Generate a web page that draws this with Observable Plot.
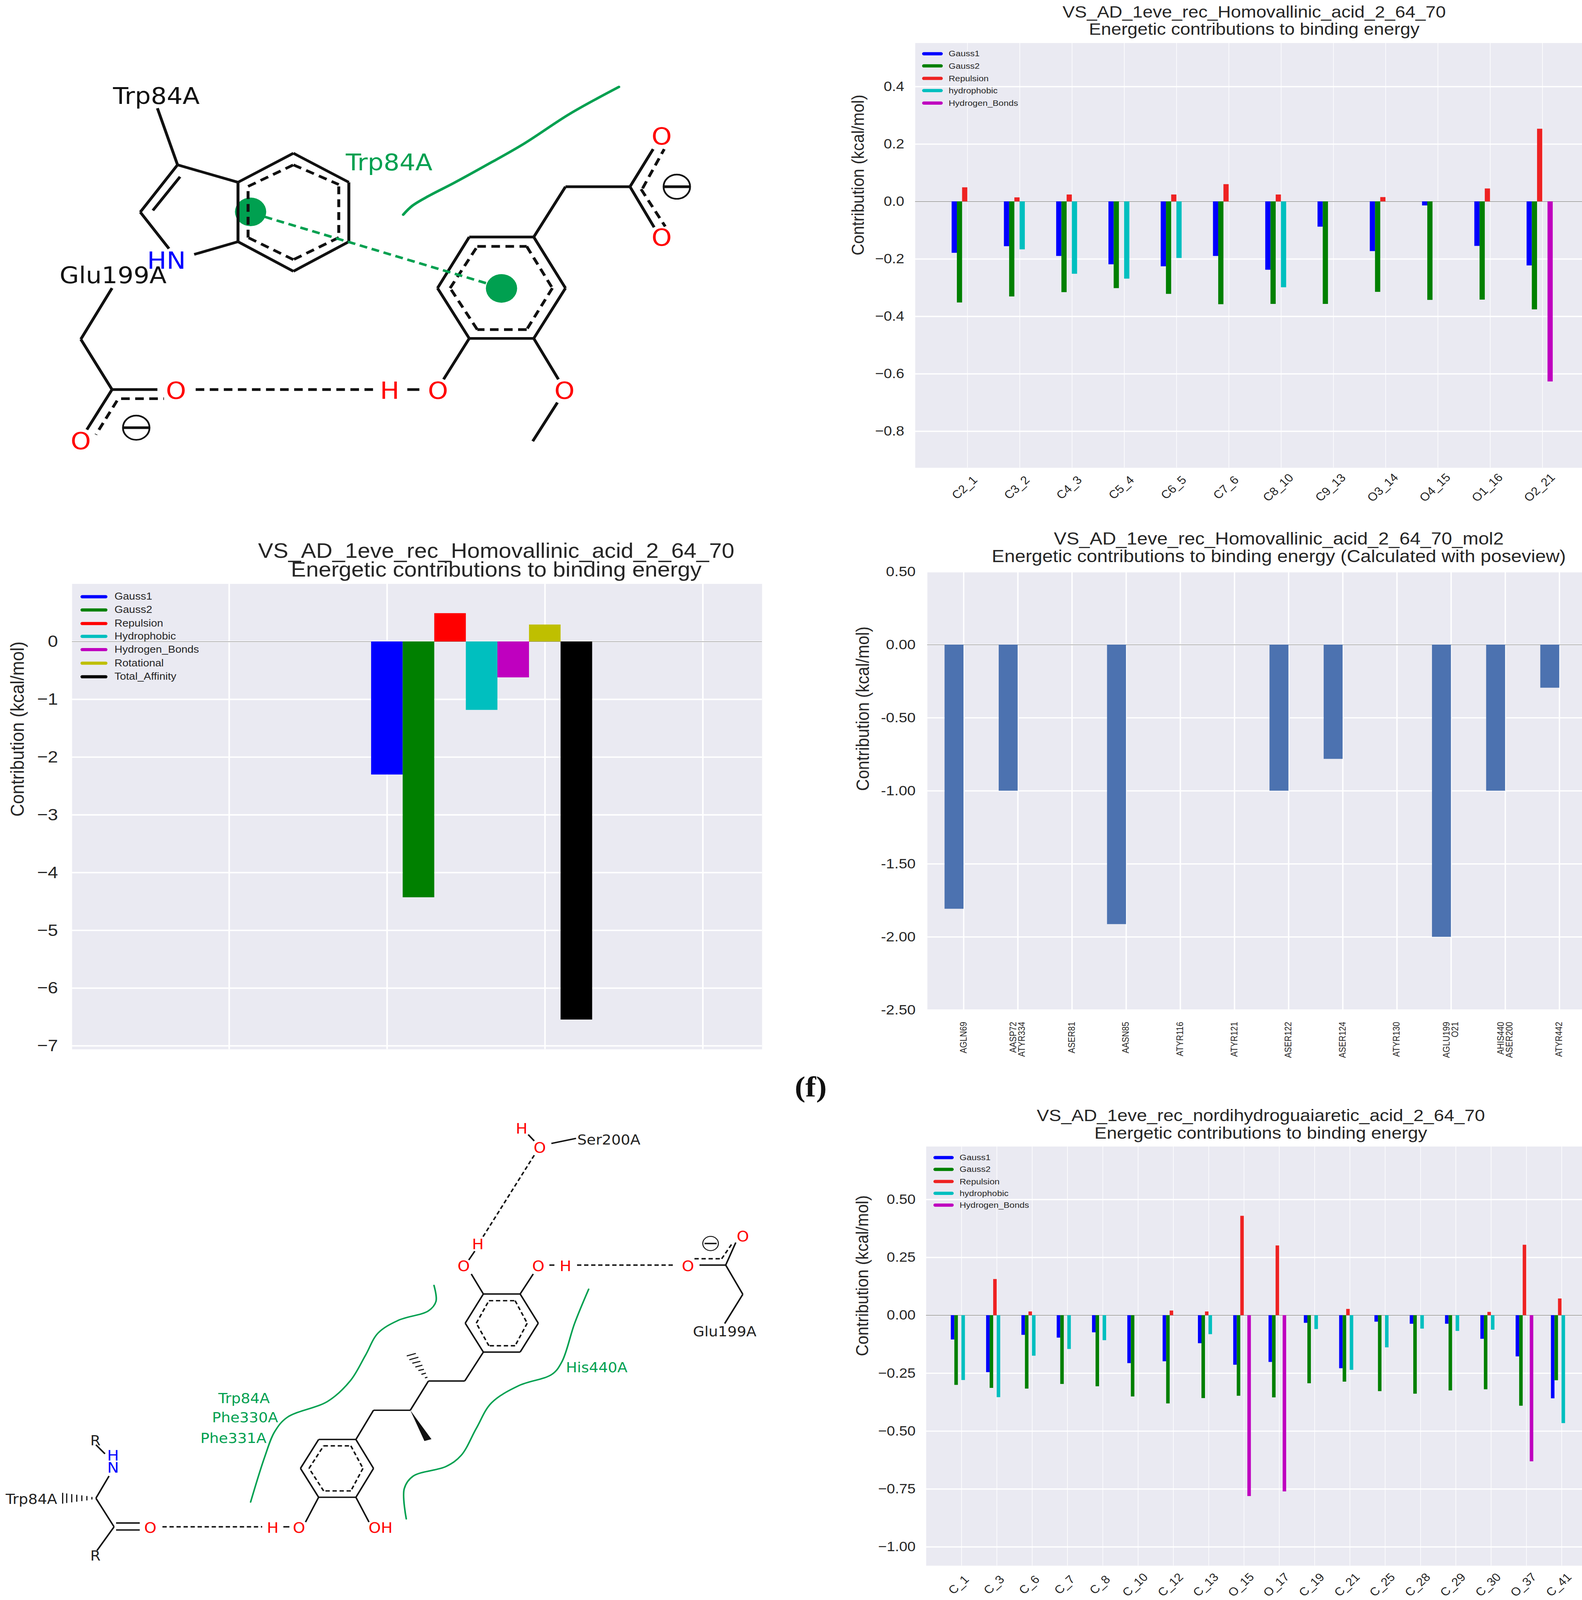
<!DOCTYPE html>
<html><head><meta charset="utf-8">
<script src="https://cdn.jsdelivr.net/npm/d3@7"></script>
<script src="https://cdn.jsdelivr.net/npm/@observablehq/plot@0.6"></script>
<style>
html,body{margin:0;padding:0;background:#fff;overflow:hidden}
#page{position:relative;width:4049px;height:4479px;overflow:hidden;font-family:"Liberation Sans",sans-serif;color:#262626;transform-origin:0 0}
.title{position:absolute;transform:translateX(-50%);text-align:center;white-space:pre}
</style></head><body><div id="page"></div>
<script>
// ---------- chart A: Homovallinic acid, per atom ----------
const atomsA = ["C2_1","C3_2","C4_3","C5_4","C6_5","C7_6","C8_10","C9_13","O3_14","O4_15","O1_16","O2_21"];
const gauss1A = [-0.179,-0.156,-0.19,-0.219,-0.226,-0.19,-0.238,-0.088,-0.173,-0.014,-0.155,-0.223];
const gauss2A = [-0.352,-0.331,-0.316,-0.302,-0.322,-0.358,-0.357,-0.357,-0.315,-0.343,-0.342,-0.376];
const repulsionA = [0.049,0.014,0.024,0,0.024,0.06,0.024,0,0.015,0,0.045,0.253];
const hydrophobicA = [0,-0.167,-0.252,-0.269,-0.197,0,-0.299,0,0,0,0,0];
const hbondsA = [0,0,0,0,0,0,0,0,0,0,0,-0.627];
const ticksA = [0.4,0.2,0,-0.2,-0.4,-0.6,-0.8];

// ---------- chart B: totals ----------
const termsB = ["Gauss1","Gauss2","Repulsion","Hydrophobic","Hydrogen_Bonds","Rotational","Total_Affinity"];
const valuesB = [-2.304,-4.43,0.49,-1.185,-0.622,0.293,-6.547];
const coloursB = ["#0000ff","#008000","#ff0000","#00bfbf","#bf00bf","#bfbf00","#000000"];
const ticksB = [0,-1,-2,-3,-4,-5,-6,-7];

// ---------- chart C: poseview ----------
const residuesC = ["AGLN69","AASP72\nATYR334","ASER81","AASN85","ATYR116","ATYR121","ASER122","ASER124","ATYR130","AGLU199\nO21","AHIS440\nASER200","ATYR442"];
const valuesC = [-1.808,-1,0,-1.913,0,0,-1,-0.782,0,-2,-1,-0.295];
const ticksC = [0.5,0,-0.5,-1,-1.5,-2,-2.5];

// ---------- chart D: nordihydroguaiaretic acid, per atom ----------
const atomsD = ["C_1","C_3","C_6","C_7","C_8","C_10","C_12","C_13","O_15","O_17","C_19","C_21","C_25","C_28","C_29","C_30","O_37","C_41"];
const gauss1D = [-0.105,-0.246,-0.085,-0.097,-0.074,-0.207,-0.199,-0.121,-0.214,-0.202,-0.033,-0.229,-0.028,-0.037,-0.037,-0.102,-0.178,-0.359];
const gauss2D = [-0.301,-0.314,-0.317,-0.297,-0.307,-0.351,-0.381,-0.358,-0.348,-0.355,-0.294,-0.287,-0.328,-0.339,-0.325,-0.32,-0.391,-0.281];
const repulsionD = [0,0.156,0.016,0,0,0,0.02,0.016,0.429,0.301,0,0.027,0,0,0,0.014,0.304,0.072];
const hydrophobicD = [-0.28,-0.354,-0.175,-0.146,-0.108,0,0,-0.082,0,0,-0.06,-0.236,-0.139,-0.058,-0.068,-0.0625,0,-0.466];
const hbondsD = [0,0,0,0,0,0,0,0,-0.781,-0.761,0,0,0,0,0,0,-0.631,0];
const ticksD = [0.5,0.25,0,-0.25,-0.5,-0.75,-1];

const seriesNames = ["Gauss1","Gauss2","Repulsion","hydrophobic","Hydrogen_Bonds"];
const seriesColours = ["#0000ff","#008000","#ee2222","#00bfbf","#bf00bf"];
const yLabel = "Contribution (kcal/mol)";

// ---------- molecule 1 (drawing units) ----------
const m1Solid = [[582,360,692,465],[692,465,692,680],[692,680,582,787],[582,787,472,680],[472,680,472,465],[472,465,582,360],
 [472,465,352,402],[352,402,278,573],[278,573,335,705],[472,680,385,726],[352,402,312,197],[303,567,357,445],
 [931,663,1059,663],[1059,663,1122,848],[1122,848,1059,1030],[1059,1030,931,1030],[931,1030,868,848],[868,848,931,663],
 [1059,663,1122,481],[1122,481,1250,481],[1250,481,1296,345],[1250,481,1298,628],
 [931,1030,880,1178],[1059,1030,1108,1178],[1106,1262,1057,1402],[808,1215,832,1215],
 [222,848,160,1033],[160,1033,222,1215],[222,1215,312,1215],[222,1215,172,1360],
 [1318,481,1368,481],[245,1353,295,1353]];
const m1Dashed = [[582,402,672,473],[672,480,672,665],[672,665,582,745],[582,745,492,665],[492,665,492,480],[492,480,582,402],
 [947,697,1045,697],[1045,697,1096,848],[1096,848,1045,998],[1045,998,947,998],[947,998,893,848],[893,848,947,697],
 [1275,487,1318,345],[1272,490,1320,625],[240,1248,325,1248],[232,1255,190,1378],[388,1215,740,1215]];
const m1GreenDash = [[525,590,968,832]];
const m1Rings = [[497,572],[995,849]];
const m1Minus = [[1343,481],[270,1353]];
const m1Curve = [[800,582],[818,550],[850,515],[900,468],[960,408],[1040,325],[1130,218],[1228,120]];
const m1Black = [["Trp84A",310,155],["Glu199A",224,803]];
const m1Green = [["Trp84A",772,395]];
const m1Blue = [["HN",330,750]];
const m1Red = [["O",1313,301],["O",1313,667],["O",869,1221],["H",773,1221],["O",1120,1221],["O",349,1221],["O",160,1404]];

// ---------- molecule 2 (drawing units) ----------
const m2Solid = [[959,587,1032,587],[1032,587,1068,679],[1068,679,1032,770],[1032,770,959,770],[959,770,923,679],[923,679,959,587],
 [632,1045,706,1045],[706,1045,741,1136],[741,1136,706,1227],[706,1227,632,1227],[632,1227,596,1136],[596,1136,632,1045],
 [959,770,922,861],[922,861,850,861],[850,861,814,953],[814,953,741,953],[741,953,706,1045],
 [959,587,935,524],[1032,587,1058,524],[1090,496,1100,496],[930,480,942,452],
 [1388,496,1440,496],[1440,496,1460,425],[1440,496,1474,588],[1474,588,1438,680],[1398,428,1422,428],
 [1048,85,1060,105],[1094,113,1143,97],
 [632,1227,606,1305],[706,1227,732,1305],[562,1320,574,1320],
 [190,1062,208,1090],[216,1160,190,1230],[190,1230,226,1320],[230,1308,277,1308],[230,1330,277,1330],[226,1320,192,1395]];
const m2Dashed = [[970,608,1022,608],[1022,608,1046,679],[1046,679,1022,750],[1022,750,970,750],[970,750,945,679],[945,679,970,608],
 [642,1065,696,1065],[696,1065,720,1136],[720,1136,696,1207],[696,1207,642,1207],[642,1207,613,1136],[613,1136,642,1065],
 [1145,496,1340,496],[1378,476,1432,476],[1432,476,1452,430],[1060,150,957,410],[322,1320,520,1320]];
const m2Hash = [[843,851,848,849],[836,840,845,836],[830,828,841,824],[824,817,838,811],[818,805,834,799],[812,794,830,786],[807,782,825,774],
 [182,1226,182,1234],[172,1223,172,1237],[162,1221,162,1239],[152,1219,152,1241],[142,1217,142,1243],[132,1215,132,1245],[124,1213,124,1247]];
const m2Wedge = [[814,953],[856,1044],[842,1050]];
const m2Minus = [[1410,428]];
const m2CurveA = [[861,560],[865,610],[850,640],[790,670],[750,710],[725,780],[695,860],[650,925],[570,975],[545,1020],[525,1100],[497,1242]];
const m2CurveB = [[1168,572],[1140,680],[1115,800],[1095,840],[1030,875],[975,930],[945,1010],[915,1095],[885,1130],[820,1160],[802,1200],[806,1295]];
const m2Black = [["Ser200A",1208,103],["Glu199A",1438,707],["Trp84A",62,1234],["R",189,1050],["R",189,1412]];
const m2Green = [["Trp84A",484,917],["Phe330A",486,977],["Phe331A",463,1042],["His440A",1184,820]];
const m2Blue = [["H",224,1097],["N",224,1135]];
const m2Red = [["O",920,500],["H",948,432],["O",1068,500],["H",1122,500],["O",1365,500],["O",1474,407],["H",1035,68],["O",1071,128],["O",593,1325],["H",541,1325],["OH",755,1325],["O",298,1325]];

const page = document.getElementById("page");
// The photographed viewport can be shorter than the reference: fit the whole sheet inside it.
const fit = Math.min(1, window.innerHeight / 4479);
page.style.transform = `scaleY(${fit})`;
function place(el, left, top){ el.style.position="absolute"; el.style.left=left+"px"; el.style.top=top+"px"; page.appendChild(el); }

function title(lines, cx, top, size, lh){
  const d=document.createElement("div"); d.className="title";
  d.textContent=lines.join("\n");
  d.style.left=cx+"px"; d.style.top=top+"px"; d.style.fontSize=size+"px"; d.style.lineHeight=lh+"px";
  page.appendChild(d);
}
function legend(names, colours, x1, x2, ys, textX, size, thick){
  names.forEach((n,i)=>{
    const s=document.createElement("div");
    s.style.cssText=`width:${x2-x1}px;height:${thick}px;border-radius:${thick/2}px;background:${colours[i]}`;
    place(s,x1,ys[i]-thick/2);
    const t=document.createElement("div");
    t.textContent=n;
    t.style.cssText=`font-size:${size}px;line-height:${size}px;white-space:pre;color:#262626`;
    place(t,textX,ys[i]-size/2);
  });
}
function chart(o){
  const [l,t,r,b]=o.frame;
  const svgLeft=Math.max(0,l-250), svgTop=t-10;
  const w=r-svgLeft, h=b-svgTop+130;
  const p=Plot.plot({
    width:w,height:h,marginLeft:l-svgLeft,marginTop:10,marginRight:0,marginBottom:130,
    style:{fontFamily:"Liberation Sans",color:"#262626",background:"transparent",overflow:"visible"},
    x:{domain:o.xDomain,axis:null},
    y:{domain:o.yDomain,axis:null},
    marks:[
      Plot.frame({fill:"#eaeaf2",stroke:null}),
      Plot.gridX(o.xGrid,{stroke:"#fff",strokeOpacity:1,strokeWidth:o.vw}),
      Plot.gridY(o.ticks,{stroke:"#fff",strokeOpacity:1,strokeWidth:o.hw}),
      Plot.ruleY([0],{stroke:"#888",strokeWidth:1.5}),
      ...o.bars,
      Plot.axisY(o.ticks,{anchor:"left",tickSize:0,tickPadding:o.tickPad,fontSize:o.tickSize,tickFormat:o.fmt,label:null}),
      Plot.text([yLabel],{text:d=>d,frameAnchor:"left",dx:o.labelDx,rotate:-90,fontSize:o.labelSize,fill:"#262626"}),
      ...(o.xText||[])
    ]
  });
  place(p,svgLeft,svgTop);
}
function groupedBars(arrays, colours){
  const offs=[-0.3,-0.2,-0.1,0,0.1];
  return arrays.map((vals,k)=>{
    const rows=vals.map((v,i)=>({i,v})).filter(d=>d.v!==0);
    return Plot.rect(rows,{x1:d=>d.i+offs[k],x2:d=>d.i+offs[k]+0.1,y1:()=>0,y2:d=>d.v,fill:colours[k]});
  });
}
const rotLabels=(names,dy,size)=>Plot.text(names,{x:(d,i)=>i,text:d=>d,frameAnchor:"bottom",dy,rotate:-45,fontSize:size,fill:"#262626"});

// Chart A
title(["VS_AD_1eve_rec_Homovallinic_acid_2_64_70","Energetic contributions to binding energy"],3210,9,46.7,48);
chart({frame:[2342,120,4049,1309],xDomain:[-1,11.76],yDomain:[-0.927,0.552],xGrid:d3.range(12),ticks:ticksA,vw:1.5,hw:3.5,
  bars:groupedBars([gauss1A,gauss2A,repulsionA,hydrophobicA,hbondsA],seriesColours),
  tickPad:28,tickSize:38,fmt:d3.format(".1f"),labelDx:-146,labelSize:45,xText:[rotLabels(atomsA,63,32)]});
legend(seriesNames,seriesColours,2360,2413,[150.5,184,219,253,288],2428,23,9);

// Chart B
title(["VS_AD_1eve_rec_Homovallinic_acid_2_64_70","Energetic contributions to binding energy"],1270,1514,58,53);
chart({frame:[184,1634,1950,2937],xDomain:[-1.995,2.375],yDomain:[-7.06,1.0],xGrid:[-1,0,1,2],ticks:ticksB,vw:4,hw:4,
  bars:[Plot.rect(valuesB.map((v,i)=>({i,v})),{x1:d=>d.i*0.2-0.1,x2:d=>d.i*0.2+0.1,y1:()=>0,y2:d=>d.v,fill:d=>coloursB[d.i]})],
  tickPad:36,tickSize:47,fmt:d3.format("d"),labelDx:-139,labelSize:49});
legend(termsB,coloursB,206,275,[1670,1707,1745,1781,1818,1856,1894],293,28,9);

// Chart C
title(["VS_AD_1eve_rec_Homovallinic_acid_2_64_70_mol2","Energetic contributions to binding energy (Calculated with poseview)"],3273,1482,48.5,50);
chart({frame:[2373,1600,4049,2827],xDomain:[-0.671,11.42],yDomain:[-2.5,0.5],xGrid:d3.range(12),ticks:ticksC,vw:3.5,hw:3.5,
  bars:[Plot.rect(valuesC.map((v,i)=>({i,v})).filter(d=>d.v!==0),{x1:d=>d.i-0.35,x2:d=>d.i,y1:()=>0,y2:d=>d.v,fill:"#4c72b0"})],
  tickPad:30,tickSize:39,fmt:v=>v.toFixed(2),labelDx:-164,labelSize:46,
  xText:[Plot.text(residuesC,{x:(d,i)=>i,text:d=>d,frameAnchor:"bottom",dy:33,rotate:-90,textAnchor:"end",lineAnchor:"middle",fontSize:23,lineHeight:0.95,fill:"#262626"})]});

// Chart D
title(["VS_AD_1eve_rec_nordihydroguaiaretic_acid_2_64_70","Energetic contributions to binding energy"],3227,3097,47,50);
chart({frame:[2370,3208.5,4049,4382],xDomain:[-1.003,17.58],yDomain:[-1.081,0.729],xGrid:d3.range(18),ticks:ticksD,vw:1.5,hw:3.5,
  bars:groupedBars([gauss1D,gauss2D,repulsionD,hydrophobicD,hbondsD],seriesColours),
  tickPad:27,tickSize:38,fmt:d3.format(".2f"),labelDx:-162.5,labelSize:45,xText:[rotLabels(atomsD,61,32)]});
legend(seriesNames,seriesColours,2389,2441,[3240,3273,3307,3340,3373],2456,23,9);

// Molecule helpers
const seg=(data,opt)=>Plot.link(data,{x1:d=>d[0],y1:d=>d[1],x2:d=>d[2],y2:d=>d[3],...opt});
const lab=(data,fill,size)=>Plot.text(data,{x:d=>d[1],y:d=>d[2],text:d=>d[0],fill,fontSize:size,fontFamily:"DejaVu Sans"});
const GREEN="#00a050";
function molecule(left,top,w,h,marks){
  const p=Plot.plot({width:w,height:h,margin:0,style:{background:"transparent",overflow:"visible"},
    x:{domain:[0,1551],range:[0,w],axis:null},y:{domain:[0,1551],range:[0,h],axis:null},marks});
  place(p,left,top);
}
molecule(0,150,2000,1200,[
  Plot.dot(m1Rings,{x:d=>d[0],y:d=>d[1],r:40,fill:GREEN}),
  seg(m1Solid,{stroke:"#111",strokeWidth:7.5}),
  seg(m1Dashed,{stroke:"#111",strokeWidth:7.5,strokeDasharray:"22 14"}),
  seg(m1GreenDash,{stroke:GREEN,strokeWidth:7,strokeDasharray:"20 12"}),
  Plot.dot(m1Minus,{x:d=>d[0],y:d=>d[1],r:34,stroke:"#111",fill:"none",strokeWidth:4.5}),
  Plot.line(m1Curve,{x:d=>d[0],y:d=>d[1],stroke:GREEN,strokeWidth:7,curve:"catmull-rom"}),
  lab(m1Black,"#111",64),lab(m1Green,GREEN,64),lab(m1Blue,"#0000ff",66),lab(m1Red,"#ff0000",66)
]);
molecule(0,3100,2000,1379,[
  seg(m2Solid,{stroke:"#111",strokeWidth:4}),
  seg(m2Dashed,{stroke:"#111",strokeWidth:4,strokeDasharray:"11 7"}),
  seg(m2Hash,{stroke:"#111",strokeWidth:3}),
  Plot.line(m2Wedge,{x:d=>d[0],y:d=>d[1],fill:"#111",stroke:"none"}),
  Plot.dot(m2Minus,{x:d=>d[0],y:d=>d[1],r:20,stroke:"#111",fill:"none",strokeWidth:2.5}),
  Plot.line(m2CurveA,{x:d=>d[0],y:d=>d[1],stroke:GREEN,strokeWidth:4,curve:"catmull-rom"}),
  Plot.line(m2CurveB,{x:d=>d[0],y:d=>d[1],stroke:GREEN,strokeWidth:4,curve:"catmull-rom"}),
  lab(m2Black,"#222",38),lab(m2Green,GREEN,38),lab(m2Blue,"#0000ff",40),lab(m2Red,"#ff0000",40)
]);

// Panel tag
const f=document.createElement("div");
f.textContent="(f)";
f.style.cssText='font-family:"Liberation Serif",serif;font-weight:bold;font-size:82px;line-height:82px;color:#111;transform:translateX(-50%)';
place(f,2075,3001);
</script></body></html>
